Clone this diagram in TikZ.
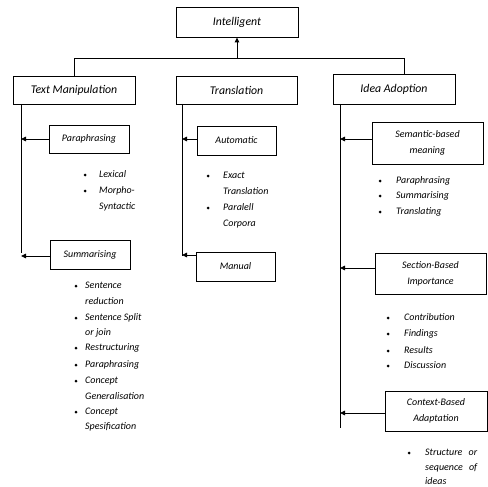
\documentclass[tikz,border=0pt]{standalone}
\usepackage{fontspec}
\setmainfont{Carlito}
\usetikzlibrary{arrows.meta}
\begin{document}
\begin{tikzpicture}[x=1pt,y=-1pt,
 box/.style={draw,line width=0.9pt,inner sep=0pt,align=center,font=\fontsize{11.8}{14}\selectfont\itshape},
 sbox/.style={box,font=\fontsize{10}{16}\selectfont\itshape},
 item/.style={anchor=west,inner sep=0pt,font=\fontsize{10}{16}\selectfont\itshape,text height=7pt,text depth=2pt},
 bul/.style={circle,fill,inner sep=0pt,minimum size=3pt},
 con/.style={line width=0.9pt},
 arr/.style={con,-{Triangle[length=5pt,width=4.5pt]}}]
\useasboundingbox (0,0) rectangle (488,487);
% main boxes
\node[box,minimum width=122pt,minimum height=30pt] (intel) at (237,22) {Intelligent};
\node[box,minimum width=122pt,minimum height=28pt] (tm) at (74,90) {Text Manipulation};
\node[box,minimum width=121pt,minimum height=28pt] (tr) at (236.5,90) {Translation};
\node[box,minimum width=122pt,minimum height=30pt] (ia) at (394,89) {Idea Adoption};
% sub boxes
\node[sbox,minimum width=80pt,minimum height=28pt] (para) at (89,139) {Paraphrasing};
\node[sbox,minimum width=80pt,minimum height=29pt] (summ) at (90,254.5) {Summarising};
\node[sbox,minimum width=79pt,minimum height=29pt] (auto) at (236.5,140.5) {Automatic};
\node[sbox,minimum width=79pt,minimum height=29pt] (man) at (235.5,266.5) {Manual};
\node[sbox,minimum width=111pt,minimum height=42pt] (sem) at (427.5,143) {Semantic-based\\meaning};
\node[sbox,minimum width=111pt,minimum height=41pt] (sec) at (430.5,273.5) {Section-Based\\Importance};
\node[sbox,minimum width=102pt,minimum height=40pt] (ctx) at (436,411) {Context-Based\\Adaptation};
% top connectors
\coordinate (hl) at (74,58);
\coordinate (hr) at (404,58);
\draw[con] (tm.north) -- (hl) -- (hr) -- (hr |- ia.north);
\draw[arr] (intel.south |- hl) -- (intel.south);
% vertical spines
\coordinate (tmv) at (21,104);
\coordinate (trv) at (182,104);
\coordinate (iav) at (340,104);
\coordinate (tmvE) at (21,253);
\coordinate (trvE) at (182,256);
\coordinate (iavE) at (340,428);
\draw[con] (tmv) -- (tmvE);
\draw[con] (trv) -- (trvE);
\draw[con] (iav) -- (iavE);
\draw[arr] (para.west) -- (para.west -| tmv);
\draw[arr] ([yshift=-1.5pt]summ.west) -- ([yshift=-1.5pt]summ.west -| tmv);
\draw[arr] ([yshift=1.5pt]auto.west) -- ([yshift=1.5pt]auto.west -| trv);
\draw[arr] ([yshift=11.5pt]man.west) -- ([yshift=11.5pt]man.west -| trv);
\draw[arr] ([yshift=4pt]sem.west) -- ([yshift=4pt]sem.west -| iav);
\draw[arr] ([yshift=5.5pt]sec.west) -- ([yshift=5.5pt]sec.west -| iav);
\draw[arr] ([yshift=-2pt]ctx.west) -- ([yshift=-2pt]ctx.west -| iav);
% Paraphrasing list
\node[bul] (pb1) at (85,175) {};
\node[item] (p1) at (99,175) {Lexical};
\node[bul] (pb2) at (85,191) {};
\node[item] (p2) at (99,191) {Morpho-};
\node[item] (p3) at (99,207) {Syntactic};
% Summarising list
\node[bul] (sb1) at (76,286) {};
\node[item] (s1) at (85,286) {Sentence};
\node[item] (s2) at (85,302) {reduction};
\node[bul] (sb2) at (76,318) {};
\node[item] (s3) at (85,318) {Sentence Split};
\node[item] (s4) at (85,333) {or join};
\node[bul] (sb3) at (76,348) {};
\node[item] (s5) at (85,348) {Restructuring};
\node[bul] (sb4) at (76,365) {};
\node[item] (s6) at (85,365) {Paraphrasing};
\node[bul] (sb5) at (76,381) {};
\node[item] (s7) at (85,381) {Concept};
\node[item] (s8) at (85,397) {Generalisation};
\node[bul] (sb6) at (76,412) {};
\node[item] (s9) at (85,412) {Concept};
\node[item] (s10) at (85,427) {Spesification};
% Automatic list
\node[bul] (ab1) at (208,176) {};
\node[item] (a1) at (223,176) {Exact};
\node[item] (a2) at (223,192) {Translation};
\node[bul] (ab2) at (208,208) {};
\node[item] (a3) at (223,208) {Paralell};
\node[item] (a4) at (223,224) {Corpora};
% Semantic list
\node[bul] (eb1) at (380,181) {};
\node[item] (e1) at (396,181) {Paraphrasing};
\node[bul] (eb2) at (380,196) {};
\node[item] (e2) at (396,196) {Summarising};
\node[bul] (eb3) at (380,212) {};
\node[item] (e3) at (396,212) {Translating};
% Section list
\node[bul] (cb1) at (388,318) {};
\node[item] (c1) at (404,318) {Contribution};
\node[bul] (cb2) at (388,334) {};
\node[item] (c2) at (404,334) {Findings};
\node[bul] (cb3) at (388,351) {};
\node[item] (c3) at (404,351) {Results};
\node[bul] (cb4) at (388,366) {};
\node[item] (c4) at (404,366) {Discussion};
% Context list
\node[bul] (xb1) at (409,453) {};
\node[item,text width=52pt] (x1) at (425,453) {Structure\hfill or};
\node[item,text width=52pt] (x2) at (425,468) {sequence\hfill of};
\node[item] (x3) at (425,482) {ideas};
\end{tikzpicture}
\end{document}
